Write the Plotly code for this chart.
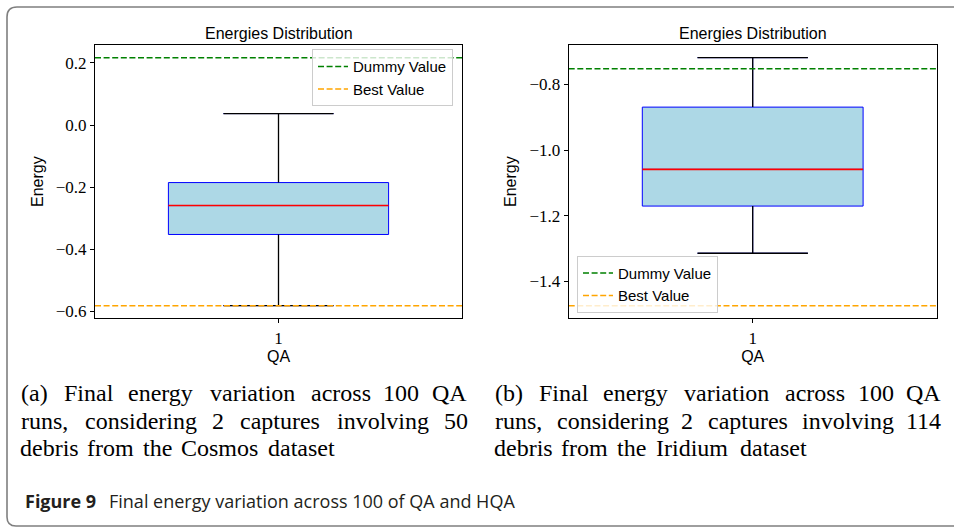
import plotly.graph_objects as go

# ---------------- data ----------------
categories = ["1"]

# panel (a): Cosmos
a_q1 = [-0.352]
a_median = [-0.259]
a_q3 = [-0.185]
a_lower = [-0.581]
a_upper = [0.037]
a_dummy = 0.217
a_best = -0.581
a_ticks = [-0.6, -0.4, -0.2, 0.0, 0.2]

# panel (b): Iridium
b_q1 = [-1.171]
b_median = [-1.059]
b_q3 = [-0.869]
b_lower = [-1.315]
b_upper = [-0.718]
b_dummy = -0.752
b_best = -1.475
b_ticks = [-1.4, -1.2, -1.0, -0.8]

title_text = "Energies Distribution"
xlabel = "QA"
ylabel = "Energy"
legend_names = ["Dummy Value", "Best Value"]

caption_a = [
    "(a) Final energy variation across 100 QA",
    "runs, considering 2 captures involving 50",
    "debris from the Cosmos dataset",
]
caption_b = [
    "(b) Final energy variation across 100 QA",
    "runs, considering 2 captures involving 114",
    "debris from the Iridium dataset",
]
figure_label = "Figure 9"
figure_caption = "Final energy variation across 100 of QA and HQA"

# ---------------- layout helpers ----------------
W, H = 954, 528
def px(x):
    return x / W
def py(y):
    return 1 - y / H

BOX_W = 0.6
WHISK = 0.5
SANS = "Liberation Sans"
SERIF = "Liberation Serif"

fig = go.Figure()

def add_panel(xa, ya, q1, med, q3, lo, hi, dummy, best, legend):
    fig.add_trace(go.Box(
        x=[1], q1=q1, median=med, q3=q3, lowerfence=lo, upperfence=hi,
        width=BOX_W, whiskerwidth=WHISK, fillcolor="#add8e6",
        line=dict(color="#0000ff", width=1), boxpoints=False,
        showlegend=False, hoverinfo="skip", xaxis=xa, yaxis=ya))
    half = BOX_W * WHISK / 2
    # whiskers (black)
    fig.add_trace(go.Scatter(
        x=[1, 1, None, 1, 1, None, 1 - half, 1 + half, None, 1 - half, 1 + half],
        y=[q3[0], hi[0], None, q1[0], lo[0], None, hi[0], hi[0], None, lo[0], lo[0]],
        mode="lines", line=dict(color="black", width=1.3),
        showlegend=False, hoverinfo="skip", xaxis=xa, yaxis=ya))
    # median (red)
    fig.add_trace(go.Scatter(
        x=[1 - BOX_W / 2, 1 + BOX_W / 2], y=[med[0], med[0]],
        mode="lines", line=dict(color="#ff0000", width=1.6),
        showlegend=False, hoverinfo="skip", xaxis=xa, yaxis=ya))
    for val, name, col in [(dummy, legend_names[0], "#008000"), (best, legend_names[1], "#ffa500")]:
        fig.add_trace(go.Scatter(
            x=[0.5, 1.5], y=[val, val], mode="lines", name=name,
            line=dict(color=col, width=1.5, dash="6px,2.6px"),
            legend=legend, hoverinfo="skip", xaxis=xa, yaxis=ya))

add_panel("x", "y", a_q1, a_median, a_q3, a_lower, a_upper, a_dummy, a_best, "legend")
add_panel("x2", "y2", b_q1, b_median, b_q3, b_lower, b_upper, b_dummy, b_best, "legend2")

axis_common = dict(showline=True, linecolor="black", linewidth=1, mirror=True,
                   ticks="outside", ticklen=4, tickcolor="black", tickwidth=1,
                   showgrid=False, zeroline=False,
                   tickfont=dict(family=SERIF, size=17, color="black"))
title_font = dict(family=SANS, size=16, color="black")

ydom = [py(320), py(45.3)]
fig.update_layout(
    width=W, height=H, margin=dict(l=0, r=0, t=0, b=0),
    paper_bgcolor="white", plot_bgcolor="white",
    xaxis=dict(domain=[px(95), px(462)], range=[0.5, 1.5], tickvals=[1], ticktext=categories,
               title=dict(text=xlabel, font=title_font, standoff=4), **axis_common),
    yaxis=dict(domain=ydom, range=[-0.6214, 0.2576], tickvals=a_ticks, tickformat=".1f",
               title=dict(text=ylabel, font=title_font, standoff=8), anchor="x", **axis_common),
    xaxis2=dict(domain=[px(568.7), px(936.7)], range=[0.5, 1.5], tickvals=[1], ticktext=categories,
                title=dict(text=xlabel, font=title_font, standoff=4), anchor="y2", **axis_common),
    yaxis2=dict(domain=ydom, range=[-1.5132, -0.6795], tickvals=b_ticks, tickformat=".1f",
                title=dict(text=ylabel, font=title_font, standoff=8), anchor="x2", **axis_common),
    legend=dict(x=px(453), xanchor="right", y=py(49.5), yanchor="top",
                bgcolor="rgba(255,255,255,0.8)", bordercolor="#cccccc", borderwidth=1,
                font=dict(family=SANS, size=15, color="black"), tracegroupgap=0),
    legend2=dict(x=px(577), xanchor="left", y=py(314.5), yanchor="bottom",
                 bgcolor="rgba(255,255,255,0.8)", bordercolor="#cccccc", borderwidth=1,
                 font=dict(family=SANS, size=15, color="black"), tracegroupgap=0),
    showlegend=True,
)

ann = []
for cx in [278.5, 752.7]:
    ann.append(dict(text=title_text, x=px(cx), y=py(34), xref="paper", yref="paper",
                    xanchor="center", yanchor="middle", showarrow=False,
                    font=dict(family=SANS, size=16, color="black")))

# ---- justified sub-captions: word centres from Computer Modern advance widths ----
CM = {"a": .5, "b": .556, "c": .444, "d": .556, "e": .444, "f": .306, "g": .5, "h": .556,
      "i": .278, "j": .306, "k": .528, "l": .278, "m": .833, "n": .556, "o": .5, "p": .556,
      "q": .528, "r": .392, "s": .394, "t": .389, "u": .556, "v": .528, "w": .722, "x": .528,
      "y": .528, "z": .444, "(": .389, ")": .389, ",": .278, ".": .278,
      "A": .75, "C": .722, "F": .653, "I": .361, "Q": .778}
EM = 22.9
def wwidth(w):
    return sum(CM.get(ch, .5) for ch in w) * EM

line_y = [395.5, 423, 450.5]
for block, x0, x1 in [(caption_a, 20, 467), (caption_b, 494, 941)]:
    for li, line in enumerate(block):
        words = line.split(" ")
        widths = [wwidth(w) for w in words]
        if li < len(block) - 1:
            gap = (x1 - x0 - sum(widths)) / (len(words) - 1)
        else:
            gap = 0.333 * EM
        x = x0
        for w, wd in zip(words, widths):
            ann.append(dict(text=w, x=px(x + wd / 2), y=py(line_y[li]), xref="paper", yref="paper",
                            xanchor="center", yanchor="middle", showarrow=False,
                            font=dict(family=SERIF, size=24, color="black")))
            x += wd + gap

ann.append(dict(text="<b>" + figure_label + "</b>", x=px(23), y=py(504), xref="paper", yref="paper",
                xanchor="left", yanchor="middle", showarrow=False,
                font=dict(family="Open Sans", size=18, color="#231f20")))
ann.append(dict(text=figure_caption, x=px(107), y=py(504), xref="paper", yref="paper",
                xanchor="left", yanchor="middle", showarrow=False,
                font=dict(family="Open Sans", size=18, color="#231f20")))
fig.update_layout(annotations=ann)

# outer rounded frame
fig.add_shape(type="path", xref="paper", yref="paper",
              path=(f"M {px(970)},{py(529)} L {px(16)},{py(529)} "
                    f"Q {px(7)},{py(529)} {px(7)},{py(520)} "
                    f"L {px(7)},{py(17)} Q {px(7)},{py(7)} {px(17)},{py(7)} L {px(970)},{py(7)}"),
              line=dict(color="#7f7f7f", width=1.6))

fig.write_html("out.html")
